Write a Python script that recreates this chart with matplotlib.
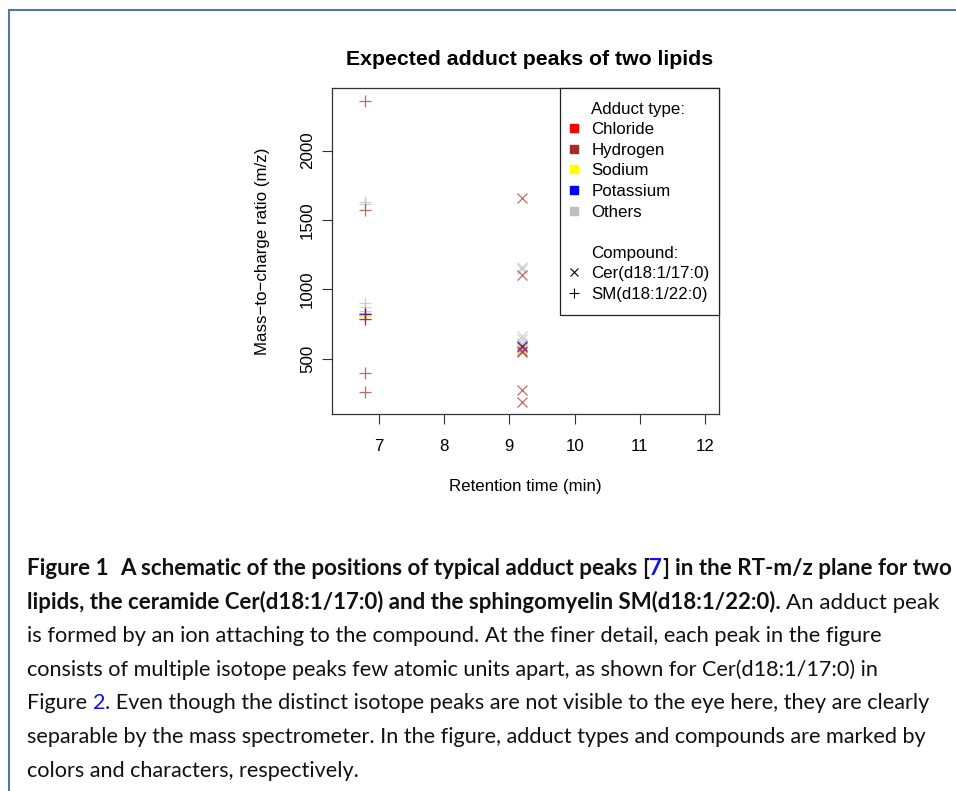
import matplotlib
matplotlib.use("Agg")
import matplotlib.pyplot as plt
from matplotlib.lines import Line2D

# ---------------- data ----------------
compounds = ["Cer(d18:1/17:0)", "SM(d18:1/22:0)"]
retention_time = [9.2, 6.79]
compound_markers = ["x", "+"]

adduct_types = ["Chloride", "Hydrogen", "Sodium", "Potassium", "Others"]

cer_chloride = [586.50]
cer_hydrogen = [184.85, 276.77, 550.52, 552.54, 1104.06, 1655.59]
cer_sodium = [574.52]
cer_potassium = [590.49]
cer_others = [569.56, 596.53, 610.55, 640.0, 664.52, 1148.06, 1162.07]

sm_chloride = [821.65]
sm_hydrogen = [263.23, 394.35, 785.67, 787.68, 1574.36, 2361.04]
sm_sodium = [809.67]
sm_potassium = [825.64]
sm_others = [804.71, 831.68, 845.70, 875.0, 899.67, 1618.36, 1632.37]

x_ticks = [7, 8, 9, 10, 11, 12]
y_ticks = [500, 1000, 1500, 2000]

title = "Expected adduct peaks of two lipids"
x_label = "Retention time (min)"
y_label = "Mass\u2212to\u2212charge ratio (m/z)"

# ---------------- style ----------------
adduct_colors = {"Chloride": "#FF0000", "Hydrogen": "#A52A2A", "Sodium": "#FFFF00",
                 "Potassium": "#0000FF", "Others": "#BEBEBE"}
draw_order = ["Others", "Sodium", "Chloride", "Potassium", "Hydrogen"]
PLOT_FONT = "Liberation Sans"
BASE = 12.2

W, H = 956, 791
fig = plt.figure(figsize=(W / 100, H / 100), dpi=100)
fig.patch.set_facecolor("white")

ax = fig.add_axes([332 / W, 1 - 414 / H, 387 / W, 326 / H])

series = {
    compounds[0]: {"Chloride": cer_chloride, "Hydrogen": cer_hydrogen, "Sodium": cer_sodium,
                   "Potassium": cer_potassium, "Others": cer_others},
    compounds[1]: {"Chloride": sm_chloride, "Hydrogen": sm_hydrogen, "Sodium": sm_sodium,
                   "Potassium": sm_potassium, "Others": sm_others},
}
marker_sizes = {"x": 6.5, "+": 8.2}

for ci, comp in enumerate(compounds):
    mk = compound_markers[ci]
    for ad in draw_order:
        vals = series[comp][ad]
        ax.plot([retention_time[ci]] * len(vals), vals, linestyle="none", marker=mk,
                markersize=marker_sizes[mk], markeredgewidth=0.9,
                color=adduct_colors[ad], alpha=0.7)

ax.set_xlim(6.285, 12.21)
ax.set_ylim(101, 2452)
ax.set_xticks(x_ticks)
ax.set_yticks(y_ticks)
ax.set_xticklabels([str(t) for t in x_ticks], fontsize=BASE, family=PLOT_FONT)
ax.set_yticklabels([str(t) for t in y_ticks], fontsize=BASE, family=PLOT_FONT,
                   rotation=90, ha="center", va="center")
ax.tick_params(axis="x", length=7.2, width=0.8, pad=10.5, color="#333333")
ax.tick_params(axis="y", length=7.2, width=0.8, pad=10.5, color="#333333")
for sp in ax.spines.values():
    sp.set_linewidth(0.9)
    sp.set_color("#333333")

ax.set_title(title, fontsize=15.3, fontweight="bold", family=PLOT_FONT, pad=16.5)
ax.title.set_x(0.5 + 4 / 387)
ax.set_xlabel(x_label, fontsize=BASE, family=PLOT_FONT, va="center")
ax.xaxis.set_label_coords(0.5, -(486 - 414) / 326)
ax.set_ylabel(y_label, fontsize=BASE, family=PLOT_FONT, va="center", ha="center")
ax.yaxis.set_label_coords(-(332 - 263) / 387, 0.5)

# legend
handles = [Line2D([], [], linestyle="none")]
labels = ["Adduct type:"]
for ad in adduct_types:
    handles.append(Line2D([], [], linestyle="none", marker="s", markersize=5.4,
                          color=adduct_colors[ad]))
    labels.append(ad)
handles.append(Line2D([], [], linestyle="none"))
labels.append(" ")
handles.append(Line2D([], [], linestyle="none"))
labels.append("Compound:")
for ci, comp in enumerate(compounds):
    mk = compound_markers[ci]
    handles.append(Line2D([], [], linestyle="none", marker=mk,
                          markersize=marker_sizes[mk] * 0.9, markeredgewidth=0.8,
                          color="black"))
    labels.append(comp)
leg_x0 = (560 - 332) / 387
leg = ax.legend(handles, labels, loc="upper left", bbox_to_anchor=(leg_x0, 0, 1 - leg_x0, 1),
                mode="expand", borderaxespad=0, fancybox=False, framealpha=1,
                edgecolor="#222222",
                prop={"family": PLOT_FONT, "size": BASE}, labelspacing=0.33,
                borderpad=0.8, handlelength=0.1, handletextpad=0.95)
leg.get_frame().set_linewidth(0.9)

# outer frame
frame_col = "#5677a6"
fig.add_artist(Line2D([9 / W, 1], [1 - 10 / H, 1 - 10 / H], transform=fig.transFigure,
                      color=frame_col, lw=1.5))
fig.add_artist(Line2D([9 / W, 9 / W], [0, 1 - 10 / H], transform=fig.transFigure,
                      color=frame_col, lw=1.5))

# ---------------- caption ----------------
CAP_FONT = "Lato"
renderer = fig.canvas.get_renderer()
BLUE = "#1010F0"
K = "#111111"


def width(text, size, weight):
    t = fig.text(0, 0, "|" + text + "|", fontsize=size, fontweight=weight, family=CAP_FONT)
    w1 = t.get_window_extent(renderer).width
    t.set_text("||")
    w0 = t.get_window_extent(renderer).width
    t.remove()
    return w1 - w0


caption_lines = [
    [("Figure 1", "bold", K, 0), ("A schematic of the positions of typical adduct peaks", "bold", K, 2),
     ("[", "bold", K, 1), ("7", "bold", BLUE, 0), ("]", "bold", K, 0),
     ("in the RT-m/z plane for two", "bold", K, 1)],
    [("lipids, the ceramide Cer(d18:1/17:0) and the sphingomyelin SM(d18:1/22:0).", "bold", K, 0),
     ("An adduct peak", "normal", K, 1)],
    [("is formed by an ion attaching to the compound. At the finer detail, each peak in the figure", "normal", K, 0)],
    [("consists of multiple isotope peaks few atomic units apart, as shown for Cer(d18:1/17:0) in", "normal", K, 0)],
    [("Figure", "normal", K, 0), ("2", "normal", BLUE, 1),
     (". Even though the distinct isotope peaks are not visible to the eye here, they are clearly", "normal", K, 0)],
    [("separable by the mass spectrometer. In the figure, adduct types and compounds are marked by", "normal", K, 0)],
    [("colors and characters, respectively.", "normal", K, 0)],
]
line_ends = [949, 938, 884, 878, 928, 921, None]
X0 = 27
BASELINE0 = 575
LINE_STEP = 33.6
REF = 13.0


def natural(segs, size):
    tot = 0
    for txt, wt, col, gap in segs:
        tot += gap * width(" ", size, wt) + width(txt, size, wt)
    return tot


sizes = []
for segs, end in zip(caption_lines, line_ends):
    if end is None:
        sizes.append(None)
    else:
        sizes.append(REF * (end - X0) / natural(segs, REF))
normal_sizes = [s for s in sizes[2:6]]
med = sorted(normal_sizes)[len(normal_sizes) // 2]
sizes = [s if s is not None else med for s in sizes]

for i, segs in enumerate(caption_lines):
    size = sizes[i]
    x = X0
    y = BASELINE0 + i * LINE_STEP
    for txt, wt, col, gap in segs:
        x += gap * width(" ", size, wt)
        fig.text(x / W, 1 - y / H, txt, fontsize=size, fontweight=wt, family=CAP_FONT,
                 color=col, ha="left", va="baseline")
        x += width(txt, size, wt)

fig.savefig("out.png", dpi=100, facecolor="white")
